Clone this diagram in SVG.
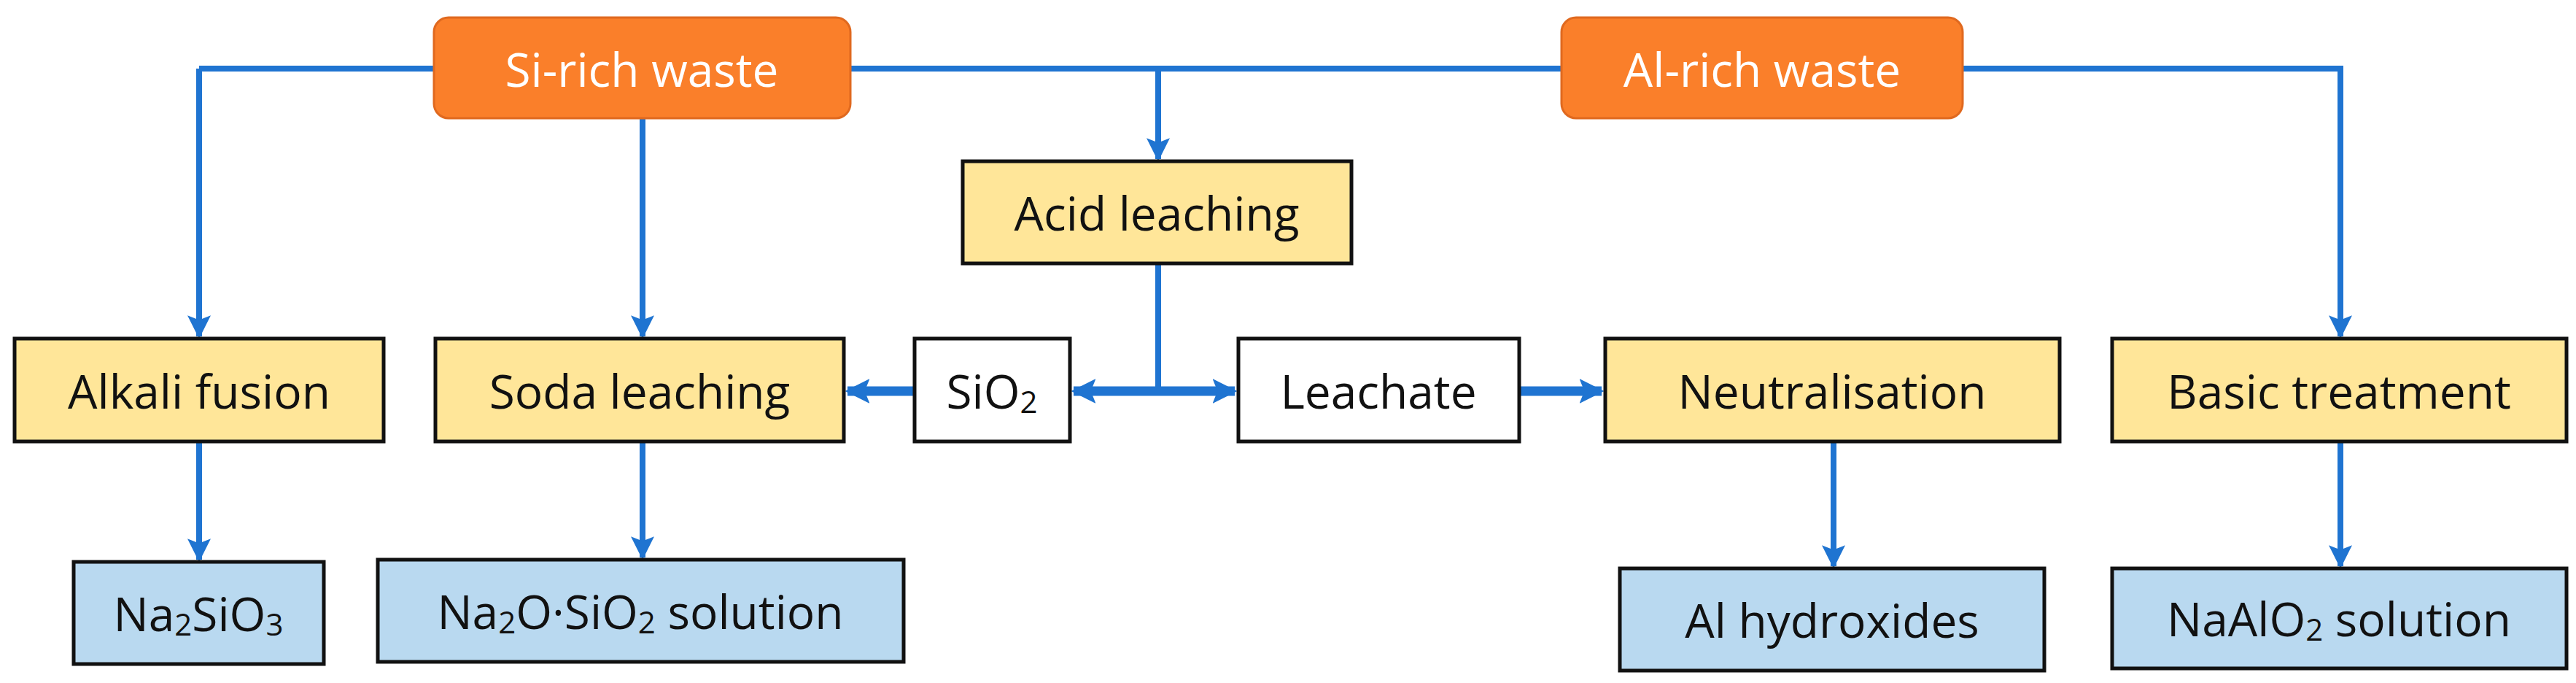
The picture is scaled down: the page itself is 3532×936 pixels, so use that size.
<svg xmlns="http://www.w3.org/2000/svg" width="3532" height="936" viewBox="0 0 3532 936">
<style>
.src{fill:#FA7F2A;stroke:#E0691F;stroke-width:3}
.proc{fill:#FFE699;stroke:#111;stroke-width:5}
.mid{fill:#fff;stroke:#111;stroke-width:5}
.prod{fill:#B9D9F0;stroke:#111;stroke-width:5}
text{font-family:"Liberation Sans Narrow","Open Sans","Liberation Sans",sans-serif;font-size:64px;text-anchor:middle;dominant-baseline:central;fill:#111}
.w{fill:#fff}
.c{fill:none;stroke:#1F74D1;stroke-width:8}
.t{fill:none;stroke:#1F74D1;stroke-width:13}
</style>
<defs>
<marker id="a" viewBox="0 0 10 10" refX="9" refY="5" markerWidth="4" markerHeight="4.5" orient="auto" markerUnits="strokeWidth"><path d="M0,0L10,5L0,10L2,5Z" fill="#1F74D1"/></marker>
<marker id="b" viewBox="0 0 10 10" refX="9" refY="5" markerWidth="2.6" markerHeight="3" orient="auto" markerUnits="strokeWidth"><path d="M0,0L10,5L0,10L2,5Z" fill="#1F74D1"/></marker>
</defs>
<g id="connectors">
<path class="c" d="M273,94H3209V461" marker-end="url(#a)"/>
<path class="c" d="M273,94V461" marker-end="url(#a)"/>
<path class="c" d="M881,162V461" marker-end="url(#a)"/>
<path class="c" d="M1588,94V218" marker-end="url(#a)"/>
<path class="c" d="M1588,361V536"/>
<path class="t" d="M1588,536H1472" marker-end="url(#b)"/>
<path class="t" d="M1588,536H1693" marker-end="url(#b)"/>
<path class="t" d="M1254,536H1162" marker-end="url(#b)"/>
<path class="t" d="M2083,536H2196" marker-end="url(#b)"/>
<path class="c" d="M273,605V767" marker-end="url(#a)"/>
<path class="c" d="M881,605V764" marker-end="url(#a)"/>
<path class="c" d="M2514,605V776" marker-end="url(#a)"/>
<path class="c" d="M3209,605V776" marker-end="url(#a)"/>
</g>
<g id="si-rich"><rect class="src" x="595" y="24" width="571" height="138" rx="20"/><text class="w" x="880" y="94">Si-rich waste</text></g>
<g id="al-rich"><rect class="src" x="2141" y="24" width="550" height="138" rx="20"/><text class="w" x="2416" y="94">Al-rich waste</text></g>
<g id="acid"><rect class="proc" x="1320" y="221" width="533" height="140"/><text x="1586" y="291">Acid leaching</text></g>
<g id="alkali"><rect class="proc" x="20" y="464" width="506" height="141"/><text x="273" y="535">Alkali fusion</text></g>
<g id="soda"><rect class="proc" x="597" y="464" width="560" height="141"/><text x="877" y="535">Soda leaching</text></g>
<g id="sio2"><rect class="mid" x="1254" y="464" width="213" height="141"/><text x="1360" y="535">SiO<tspan font-size="42" dy="14">2</tspan></text></g>
<g id="leachate"><rect class="mid" x="1698" y="464" width="385" height="141"/><text x="1890" y="535">Leachate</text></g>
<g id="neutral"><rect class="proc" x="2201" y="464" width="623" height="141"/><text x="2512" y="535">Neutralisation</text></g>
<g id="basic"><rect class="proc" x="2896" y="464" width="623" height="141"/><text x="3207" y="535">Basic treatment</text></g>
<g id="na2sio3"><rect class="prod" x="101" y="770" width="343" height="140"/><text x="272" y="840">Na<tspan font-size="42" dy="14">2</tspan><tspan dy="-14">SiO</tspan><tspan font-size="42" dy="14">3</tspan></text></g>
<g id="na2osio2"><rect class="prod" x="518" y="767" width="721" height="140"/><text x="878" y="837">Na<tspan font-size="42" dy="14">2</tspan><tspan dy="-14">O·SiO</tspan><tspan font-size="42" dy="14">2</tspan><tspan dy="-14"> solution</tspan></text></g>
<g id="alhyd"><rect class="prod" x="2221" y="779" width="582" height="140"/><text x="2512" y="849">Al hydroxides</text></g>
<g id="naalo2"><rect class="prod" x="2896" y="779" width="623" height="137"/><text x="3207" y="847">NaAlO<tspan font-size="42" dy="14">2</tspan><tspan dy="-14"> solution</tspan></text></g>
</svg>
